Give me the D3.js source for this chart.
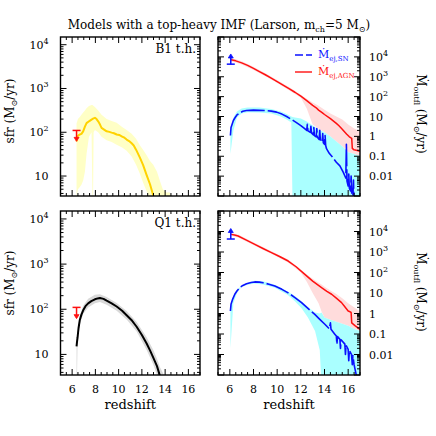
<!DOCTYPE html>
<html>
<head>
<meta charset="utf-8">
<script src="https://cdn.jsdelivr.net/npm/d3@7"></script>
<style>
  body { margin: 0; background: #fff; }
  text { font-family: "DejaVu Serif", serif; fill: #000; }
</style>
</head>
<body>
<svg id="fig" width="436" height="436"></svg>
<script>
// ---- data ----
// B1 t.h. (top left): star formation rate
const b1Z   = [6.38, 6.45, 6.5, 6.58, 6.66, 6.8, 6.95, 7.1, 7.24, 7.35, 7.45, 7.67, 7.8, 7.96, 8.1, 8.24, 8.4, 8.53, 8.75, 8.97, 9.2, 9.4, 9.6, 9.83, 10.05, 10.3, 10.5, 10.69, 10.9, 11.12, 11.3, 11.5, 11.84, 12.1, 12.41, 12.7, 12.98, 13.1]
const b1Sfr = [62, 80, 83, 86, 89, 92, 105, 135, 162, 170, 178, 195, 205, 214, 200, 178, 150, 126, 115, 105, 102, 98, 95, 89, 87, 80, 75, 68, 63, 56, 50, 40, 26, 18, 10.5, 6.5, 3.6, 3.0]
const b1BandZ  = [6.38, 6.5, 6.66, 6.8, 6.95, 7.1, 7.24, 7.45, 7.67, 7.75, 7.8, 7.85, 7.96, 8.24, 8.53, 8.97, 9.4, 9.83, 10.3, 10.69, 11.12, 11.5, 11.84, 12.1, 12.41, 12.7, 12.98, 13.3, 13.6, 13.8, 14.1, 14.4, 14.6, 14.7]
const b1BandHi = [158, 200, 224, 251, 282, 316, 355, 398, 417, 417, 407, 398, 380, 316, 251, 200, 182, 166, 132, 112, 93, 71, 50, 40, 30, 22, 18, 12.6, 7.1, 5.0, 4.2, 4.2, 2.8, 2.0]
const b1BandLo = [3.2, 5.0, 5.6, 6.3, 7.9, 12.6, 32, 79, 100, 3.2, 3.2, 100, 112, 100, 79, 66, 60, 52, 45, 38, 28, 18, 11.2, 7.1, 4.5, 3.2, 3.2, 3.2, 3.2, 3.2, 3.2, 3.2, 2.0, 2.0]

// Q1 t.h. (bottom left)
const q1Z   = [6.38, 6.42, 6.47, 6.55, 6.66, 6.8, 6.95, 7.15, 7.38, 7.65, 7.96, 8.2, 8.39, 8.7, 8.97, 9.4, 9.83, 10.3, 10.69, 11.1, 11.55, 12.0, 12.41, 12.7, 12.98, 13.3, 13.56]
const q1Sfr = [15, 19, 24, 38, 58, 76, 95, 117, 135, 151, 166, 174, 178, 170, 155, 135, 115, 93, 74, 58, 41, 27, 17.4, 12.3, 8.5, 5.5, 3.3]
const q1BandZ  = [6.38, 6.42, 6.47, 6.66, 6.95, 7.38, 7.96, 8.39, 8.97, 9.83, 10.69, 11.55, 12.41, 12.98, 13.3, 13.56, 13.9]
const q1BandHi = [20, 24, 32, 72, 120, 170, 209, 214, 186, 138, 91, 52, 24, 12.6, 8, 5.2, 3.5]
const q1BandLo = [3.5, 3.5, 18, 45, 79, 110, 135, 145, 126, 93, 59, 32, 12.6, 6.0, 3.5, 3.5, 3.5]

// upper limits on the sfr (red) and lower limits on the outflow rate (blue)
const sfrLimZ = 6.38, sfrLimBar = 110, sfrLimTip = 62
const outLimZ = 6.08, outLimBar = 4300, outLimTip = 14000

// B1 outflow rates (top right)
const trAgnZ = [6.1, 6.5, 7.0, 7.5, 8.0, 8.5, 9.0, 9.5, 10.0, 10.5, 11.0, 11.5, 12.0, 12.5, 13.0, 13.3, 13.5, 13.8, 14.0, 14.5, 15.0, 15.2, 15.5, 15.86, 16.1, 16.3, 16.35, 16.5, 16.85, 17.0]
const trAgn  = [7080, 6310, 5010, 3720, 2630, 1820, 1260, 851, 575, 380, 251, 166, 105, 63, 36, 27.5, 21, 15.8, 12.6, 7.8, 4.5, 3.5, 2.3, 1.32, 0.95, 0.79, 0.25, 0.21, 0.19, 0.18]
const trAgnBandZ  = [6.1, 6.5, 7.0, 8.0, 9.0, 10.0, 11.0, 12.0, 12.5, 13.0, 13.5, 14.0, 14.5, 15.0, 15.5, 16.0, 16.5, 17.0]
const trAgnBandHi = [8510, 7590, 6030, 3160, 1510, 692, 302, 126, 79, 50, 35, 22, 14, 10, 7.1, 4.0, 2.5, 1.8]
const trAgnBandLo = [5890, 5250, 4170, 2190, 1050, 479, 209, 89, 25, 4.0, 2.5, 1.6, 1.0, 0.56, 0.32, 0.16, 0.13, 0.1]
const trSnZ = [6.05, 6.1, 6.2, 6.3, 6.45, 6.6, 6.83, 7.1, 7.4, 8.0, 8.5, 9.0, 9.5, 9.95, 10.4, 10.8, 11.2, 11.6, 12.0, 12.3, 12.5, 12.55, 12.6, 12.8, 12.85, 12.9, 13.05, 13.1, 13.15, 13.3, 13.35, 13.4, 13.55, 13.6, 13.65, 13.8, 13.85, 13.9, 14.0, 14.05, 14.1, 14.17, 14.4, 14.7, 15.0, 15.3, 15.58, 15.8, 15.85, 15.9, 16.0, 16.05, 16.1, 16.2, 16.25, 16.3, 16.4, 16.45, 16.5]
const trSn  = [1.1, 2.8, 4.2, 6.3, 8.9, 12, 15.1, 18.2, 20, 20.9, 20.4, 20, 18.6, 16.6, 13.2, 10, 7.2, 5.1, 3.5, 2.5, 2.0, 4.0, 1.9, 1.6, 3.2, 1.5, 1.2, 2.8, 1.1, 0.95, 2.5, 0.9, 0.7, 2.0, 0.66, 0.52, 1.4, 0.48, 0.4, 1.1, 0.35, 0.24, 0.14, 0.087, 0.05, 0.033, 0.016, 0.008, 0.4, 0.0056, 0.0032, 0.0126, 0.0025, 0.0018, 0.01, 0.0014, 0.001, 0.0063, 0.0003]
const trSnBandZ  = [6.05, 6.3, 6.6, 7.0, 7.5, 8.5, 9.5, 10.3, 10.8, 11.2, 11.3, 11.5, 12.0, 12.5, 13.0, 13.5, 14.0, 14.5, 15.0, 15.5, 16.0, 16.5, 17.0]
const trSnBandHi = [1.6, 8.9, 17.8, 25, 28, 28, 24, 17.8, 13.2, 10, 9.5, 8.9, 7.9, 5.6, 3.5, 2.2, 1.6, 1.0, 0.56, 0.32, 0.16, 0.13, 0.1]
const trSnBandLo = [0.13, 2.0, 8.9, 14, 16.6, 15.8, 14, 10, 7.1, 5.0, 0.0003, 0.0003, 0.0003, 0.0003, 0.0003, 0.0003, 0.0003, 0.0003, 0.0003, 0.0003, 0.0003, 0.0003, 0.0003]

// Q1 outflow rates (bottom right)
const brAgnZ = [6.1, 6.4, 6.7, 7.4, 8.11, 8.8, 9.52, 10.2, 10.93, 11.6, 12.34, 13.0, 13.75, 14.2, 14.6, 15.0, 15.44, 15.7, 16.0, 16.1, 16.25, 16.3, 16.6, 17.0]
const brAgn  = [7240, 6760, 6030, 3800, 2340, 1480, 933, 603, 363, 191, 81, 38, 18.2, 12, 8.7, 5.6, 3.4, 2.2, 1.32, 1.26, 1.12, 0.35, 0.25, 0.17]
const brAgnBandZ  = [6.1, 6.7, 8.11, 9.52, 10.93, 12.0, 12.5, 13.0, 13.5, 13.75, 14.0, 14.5, 15.0, 15.5, 16.0, 16.5, 17.0]
const brAgnBandHi = [8510, 7080, 2750, 1100, 427, 141, 79, 50, 32, 26, 20, 13.2, 8.9, 5.6, 3.2, 2.0, 1.26]
const brAgnBandLo = [6170, 5130, 2000, 794, 309, 100, 35, 10, 3.2, 1.26, 0.63, 0.5, 0.4, 0.32, 0.25, 0.18, 0.14]
const brSnZ = [6.05, 6.1, 6.25, 6.42, 6.6, 6.84, 7.1, 7.41, 7.8, 8.11, 8.5, 8.81, 9.3, 9.8, 10.4, 10.93, 11.5, 12.06, 12.6, 13.18, 13.6, 14.03, 14.4, 14.5, 14.55, 14.87, 15.0, 15.05, 15.1, 15.3, 15.35, 15.4, 15.72, 15.77, 15.82, 16.0, 16.05, 16.1, 16.28, 16.35, 16.4, 16.5, 16.7]
const brSn  = [1.32, 2.8, 5.2, 8.7, 12.6, 18.2, 23.4, 28.2, 32.4, 34.7, 33.9, 31.6, 26.9, 21.9, 15.1, 10.2, 6.0, 3.4, 1.78, 0.91, 0.52, 0.30, 0.18, 0.35, 0.17, 0.098, 0.079, 0.032, 0.076, 0.056, 0.02, 0.052, 0.032, 0.01, 0.028, 0.018, 0.005, 0.016, 0.01, 0.0032, 0.0089, 0.0032, 0.0009]
const brSnBandZ  = [6.05, 6.3, 6.6, 7.0, 7.5, 8.1, 8.8, 9.8, 10.9, 11.5, 12.06, 12.6, 13.2, 13.6, 13.75, 13.8, 14.0, 14.5, 15.0, 15.5, 16.0, 16.5, 17.0]
const brSnBandHi = [2.0, 7.1, 14.1, 22.9, 31.6, 39.8, 37.2, 25.1, 12.0, 7.1, 4.0, 2.1, 1.12, 1.0, 1.12, 1.0, 0.63, 0.5, 0.4, 0.32, 0.25, 0.18, 0.14]
const brSnBandLo = [0.02, 3.2, 10, 20, 25, 28.8, 26.3, 17.8, 7.9, 4.0, 1.78, 0.63, 0.14, 0.016, 0.0003, 0.0003, 0.0003, 0.0003, 0.0003, 0.0003, 0.0003, 0.0003, 0.0003]

// axis setup
const zDomain = [5, 17]
const zMajor = [6, 8, 10, 12, 14, 16]
const sfrDomain = [3.5, 1.5e4]
const outDomain = [1e-3, 1e5]
const sfrLabels = [10, 100, 1000, 10000]
const outLabels = [1e4, 1e3, 1e2, 10, 1, 0.1, 0.01]

const colYellow = '#ffd200', colYellowBand = '#ffffc6'
const colGreyBand = '#d9d9d9'
const colRed = '#ff1010', colPink = '#ffdcdc'
const colBlue = '#0a10ff', colCyan = '#aaffff'

const svg = d3.select('#fig')

function zip (z, v) { return z.map((d, i) => ({ z: d, v: v[i] })) }
function zipBand (z, lo, hi) { return z.map((d, i) => ({ z: d, lo: lo[i], hi: hi[i] })) }

function logTicks (dom) {
  let out = []
  let e0 = Math.floor(Math.log10(dom[0])), e1 = Math.ceil(Math.log10(dom[1]))
  for (let e = e0; e <= e1; e++) {
    for (let k = 1; k < 10; k++) {
      let v = k * Math.pow(10, e)
      if (v >= dom[0] * 0.999 && v <= dom[1] * 1.001) out.push({ v: v, major: k === 1 })
    }
  }
  return out
}

function powLabel (sel, v) {
  let e = Math.round(Math.log10(v))
  if (e === 1) sel.text('10')
  else if (e === 0) sel.text('1')
  else if (e === -1) sel.text('0.1')
  else if (e === -2) sel.text('0.01')
  else {
    sel.text('10')
    sel.append('tspan').attr('dy', -5).attr('font-size', 8).text(e)
  }
}

let clipId = 0
function makePanel (x0, x1, y0, y1, yDom) {
  let x = d3.scaleLinear().domain(zDomain).range([x0, x1])
  let y = d3.scaleLog().domain(yDom).range([y1, y0])
  let g = svg.append('g')
  let id = 'clip' + (clipId++)
  svg.append('clipPath').attr('id', id)
    .append('rect').attr('x', x0).attr('y', y0).attr('width', x1 - x0).attr('height', y1 - y0)
  let inner = g.append('g').attr('clip-path', 'url(#' + id + ')')
  return { x, y, g, inner, x0, x1, y0, y1, yDom }
}

function drawFrame (p) {
  let minorZ = d3.range(5, 17.001, 0.5).filter(v => zMajor.indexOf(v) < 0)
  let yt = logTicks(p.yDom)
  let tg = p.g.append('g').attr('stroke', '#000').attr('stroke-width', 1)
  // x ticks on bottom and top edges
  zMajor.concat(minorZ).forEach(v => {
    let len = zMajor.indexOf(v) >= 0 ? 6 : 3
    let xx = p.x(v)
    tg.append('line').attr('x1', xx).attr('x2', xx).attr('y1', p.y1).attr('y2', p.y1 - len)
    tg.append('line').attr('x1', xx).attr('x2', xx).attr('y1', p.y0).attr('y2', p.y0 + len)
  })
  // log ticks on left and right edges
  yt.forEach(t => {
    let len = t.major ? 6 : 3
    let yy = p.y(t.v)
    tg.append('line').attr('x1', p.x0).attr('x2', p.x0 + len).attr('y1', yy).attr('y2', yy)
    tg.append('line').attr('x1', p.x1).attr('x2', p.x1 - len).attr('y1', yy).attr('y2', yy)
  })
  p.g.append('rect')
    .attr('x', p.x0).attr('y', p.y0).attr('width', p.x1 - p.x0).attr('height', p.y1 - p.y0)
    .attr('fill', 'none').attr('stroke', '#000').attr('stroke-width', 1.4)
}

function drawBand (p, data, fill) {
  let area = d3.area().x(d => p.x(d.z)).y0(d => p.y(d.lo)).y1(d => p.y(d.hi))
  p.inner.append('path').datum(data).attr('d', area).attr('fill', fill).attr('stroke', 'none')
}

function drawLine (p, data, color, width, dash) {
  let line = d3.line().x(d => p.x(d.z)).y(d => p.y(d.v))
  let path = p.inner.append('path').datum(data).attr('d', line)
    .attr('fill', 'none').attr('stroke', color).attr('stroke-width', width)
    .attr('stroke-linejoin', 'round')
  if (dash) path.attr('stroke-dasharray', dash)
}

function drawLimit (p, z, bar, tip, color) {
  let xx = p.x(z), yb = p.y(bar), yt = p.y(tip)
  let dir = yt > yb ? 1 : -1
  let g = p.g.append('g').attr('stroke', color).attr('fill', color).attr('stroke-width', 1.5)
  g.append('line').attr('x1', xx - 4).attr('x2', xx + 4).attr('y1', yb).attr('y2', yb)
  g.append('line').attr('x1', xx).attr('x2', xx).attr('y1', yb).attr('y2', yt - dir * 3)
  g.append('path').attr('stroke-width', 0.8)
    .attr('d', `M${xx - 2.5},${yt - dir * 4}L${xx + 2.5},${yt - dir * 4}L${xx},${yt}Z`)
}

// panels
const tl = makePanel(60.5, 200, 37, 196, sfrDomain)
const tr = makePanel(218, 360, 37, 196, outDomain)
const bl = makePanel(60.5, 200, 211, 375, sfrDomain)
const br = makePanel(218, 360, 211, 375, outDomain)

// top left: B1
drawBand(tl, zipBand(b1BandZ, b1BandLo, b1BandHi), colYellowBand)
drawLine(tl, zip(b1Z, b1Sfr), colYellow, 2)
drawLimit(tl, sfrLimZ, sfrLimBar, sfrLimTip, colRed)

// bottom left: Q1
drawBand(bl, zipBand(q1BandZ, q1BandLo, q1BandHi), colGreyBand)
drawLine(bl, zip(q1Z, q1Sfr), '#000', 2)
drawLimit(bl, sfrLimZ, sfrLimBar, sfrLimTip, colRed)

// right panels: outflows
;[[tr, trAgnBandZ, trAgnBandLo, trAgnBandHi, trSnBandZ, trSnBandLo, trSnBandHi, trAgnZ, trAgn, trSnZ, trSn],
  [br, brAgnBandZ, brAgnBandLo, brAgnBandHi, brSnBandZ, brSnBandLo, brSnBandHi, brAgnZ, brAgn, brSnZ, brSn]]
  .forEach(a => {
    let p = a[0]
    drawBand(p, zipBand(a[1], a[2], a[3]), colPink)
    drawBand(p, zipBand(a[4], a[5], a[6]), colCyan)
    drawLine(p, zip(a[7], a[8]), colRed, 1.5)
    drawLine(p, zip(a[9], a[10]), colBlue, 1.6, '24,3')
    drawLimit(p, outLimZ, outLimBar, outLimTip, colBlue)
  })

;[tl, tr, bl, br].forEach(drawFrame)

// tick labels
;[tl, bl].forEach(p => {
  sfrLabels.forEach(v => {
    let t = p.g.append('text').attr('x', p.x0 - 12).attr('y', p.y(v) + 4)
      .attr('text-anchor', 'end').attr('font-size', 11)
    powLabel(t, v)
  })
})
;[tr, br].forEach(p => {
  outLabels.forEach(v => {
    let t = p.g.append('text').attr('x', p.x1 + 9).attr('y', p.y(v) + 4)
      .attr('font-size', 11)
    powLabel(t, v)
  })
})
;[bl, br].forEach(p => {
  zMajor.forEach(v => {
    p.g.append('text').attr('x', p.x(v)).attr('y', p.y1 + 18)
      .attr('text-anchor', 'middle').attr('font-size', 11).text(v)
  })
  p.g.append('text').attr('x', (p.x0 + p.x1) / 2).attr('y', p.y1 + 34)
    .attr('text-anchor', 'middle').attr('font-size', 13).text('redshift')
})

// panel labels
tl.g.append('text').attr('x', tl.x1 - 4).attr('y', tl.y0 + 16).attr('text-anchor', 'end')
  .attr('font-size', 12).text('B1 t.h.')
bl.g.append('text').attr('x', bl.x1 - 4).attr('y', bl.y0 + 16).attr('text-anchor', 'end')
  .attr('font-size', 12).text('Q1 t.h.')

// y axis titles
function sfrTitle (cy) {
  let t = svg.append('text').attr('transform', `translate(14,${cy}) rotate(-90)`)
    .attr('text-anchor', 'middle').attr('font-size', 12)
  t.append('tspan').text('sfr (M')
  t.append('tspan').attr('dy', 3).attr('font-size', 8).text('⊙')
  t.append('tspan').attr('dy', -3).text('/yr)')
}
sfrTitle(111)
sfrTitle(283)

function outTitle (cy) {
  let t = svg.append('text').attr('transform', `translate(417,${cy}) rotate(90)`)
    .attr('text-anchor', 'middle').attr('font-size', 12)
  t.append('tspan').text('M\u0307')
  t.append('tspan').attr('dy', 3).attr('font-size', 8).text('outfl')
  t.append('tspan').attr('dy', -3).text(' (M')
  t.append('tspan').attr('dy', 3).attr('font-size', 8).text('⊙')
  t.append('tspan').attr('dy', -3).text('/yr)')
}
outTitle(114)
outTitle(292)

// legend in the top right panel
function legendRow (y, color, dash, sub) {
  let l = svg.append('line').attr('x1', 295).attr('x2', 312).attr('y1', y).attr('y2', y)
    .attr('stroke', color).attr('stroke-width', 1.4)
  if (dash) l.attr('stroke-dasharray', dash)
  let t = svg.append('text').attr('x', 318).attr('y', y + 3).attr('font-size', 11)
  t.append('tspan').attr('fill', color).text('M\u0307')
  t.append('tspan').attr('fill', color).attr('dy', 3).attr('font-size', 7).text(sub)
}
legendRow(55, colBlue, '8,3', 'ej,SN')
legendRow(72, colRed, null, 'ej,AGN')

// title
const title = svg.append('text').attr('x', 219).attr('y', 29).attr('text-anchor', 'middle').attr('font-size', 12)
title.append('tspan').text('Models with a top-heavy IMF (Larson, m')
title.append('tspan').attr('dy', 2.5).attr('font-size', 8).text('ch')
title.append('tspan').attr('dy', -2.5).text('=5 M')
title.append('tspan').attr('dy', 2.5).attr('font-size', 8).text('⊙')
title.append('tspan').attr('dy', -2.5).text(')')
</script>
</body>
</html>
